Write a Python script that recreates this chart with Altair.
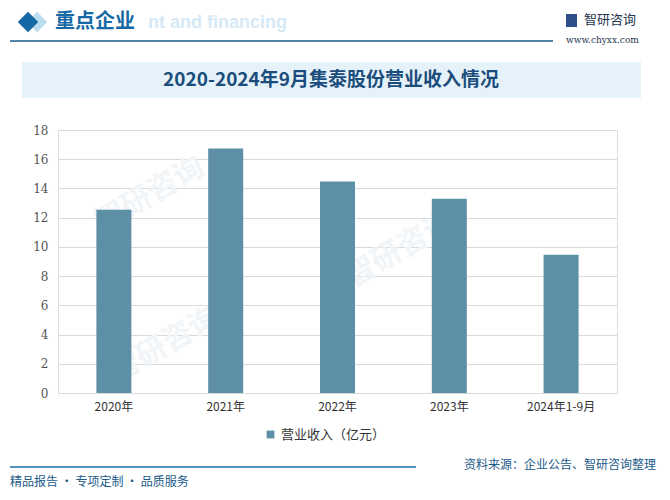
import altair as alt
import pandas as pd

categories = ["2020年", "2021年", "2022年", "2023年", "2024年1-9月"]
revenue = [12.55, 16.73, 14.47, 13.29, 9.47]
series_name = "营业收入（亿元）"
y_ticks = [0, 2, 4, 6, 8, 10, 12, 14, 16, 18]

title_text = "2020-2024年9月集泰股份营业收入情况"
header_text = "重点企业"
header_bg_text = "nt and financing"
logo_text = "智研咨询"
logo_url = "www.chyxx.com"
footer_left = "精品报告 · 专项定制 · 品质服务"
footer_right = "资料来源：企业公告、智研咨询整理"

df = pd.DataFrame({"cat": categories, "val": revenue, "series": [series_name] * len(categories)})
one = pd.DataFrame({"a": [0]})

# plot origin is at page (58,130)
OX, OY = 58, 130
FONT = "Noto Sans CJK SC"


def px(x):
    return x - OX


def py(y):
    return y - OY


def text(t, x, y, size, color, align="left", weight="normal", font=FONT, baseline="middle", angle=0, opacity=1):
    kw = dict(align=align, baseline=baseline, fontSize=size, color=color, fontWeight=weight, font=font, opacity=opacity)
    if angle:
        kw["angle"] = angle
    return alt.Chart(one).mark_text(**kw).encode(x=alt.value(px(x)), y=alt.value(py(y)), text=alt.value(t))


def rule(x1, x2, y, color, width):
    return alt.Chart(one).mark_rule(color=color, strokeWidth=width).encode(
        x=alt.value(px(x1)), x2=alt.value(px(x2)), y=alt.value(py(y)))


def rect(x1, x2, y1, y2, color, opacity=1):
    return alt.Chart(one).mark_rect(color=color, opacity=opacity).encode(
        x=alt.value(px(x1)), x2=alt.value(px(x2)), y=alt.value(py(y1)), y2=alt.value(py(y2)))


def diamond(x, y, size, color):
    return alt.Chart(one).mark_point(shape="diamond", filled=True, opacity=1, color=color, size=size).encode(
        x=alt.value(px(x)), y=alt.value(py(y)))


title_bg = rect(22, 641, 62, 98, "#e6f2fa")

watermarks = alt.layer(*[
    text("智研咨询", x, y, 30, "#f2f5f8", align="center", weight="bold", angle=330)
    for (x, y) in [(150, 195), (400, 250), (165, 345)]
])

bars = alt.Chart(df).mark_bar(size=35).encode(
    x=alt.X("cat:N", sort=categories, title=None,
            scale=alt.Scale(paddingInner=0.69, paddingOuter=0.345),
            axis=alt.Axis(labelAngle=0, labelFontSize=12, labelColor="#333333", labelFont=FONT,
                          labelPadding=8, domainColor="#d9d9d9", ticks=False, grid=False)),
    y=alt.Y("val:Q", title=None, scale=alt.Scale(domain=[0, 18], nice=False),
            axis=alt.Axis(values=y_ticks, labelFontSize=12, labelColor="#555555", labelFont="DejaVu Serif",
                          labelPadding=10, domain=False, ticks=False, gridColor="#d9d9d9")),
    color=alt.Color("series:N", scale=alt.Scale(range=["#5d90a7"]),
                    legend=alt.Legend(title=None, orient="none", legendX=206, legendY=298,
                                      symbolType="square", symbolSize=60, labelFontSize=13,
                                      labelColor="#333333", labelFont=FONT)),
)

layers = [
    title_bg,
    watermarks,
    bars,
    text(title_text, 331, 80, 19, "#1b4d7c", align="center", weight="bold"),
    # header
    text(header_bg_text, 287, 23, 18, "#d5e9f6", align="right", weight="bold", font="Liberation Sans"),
    diamond(37, 22, 420, "#bcdcef"),
    diamond(28, 22, 420, "#1769a6"),
    text(header_text, 55, 22, 20, "#1769a6", weight="bold"),
    rule(10, 553, 41, "#1a5a8a", 1.5),
    rect(566, 577, 14, 27, "#2f4f8a"),
    text(logo_text, 584, 20, 13, "#1f3550"),
    text(logo_url, 566, 40, 9, "#1f3550", font="DejaVu Serif"),
    # footer
    rule(10, 416, 467, "#1a6ea8", 1.5),
    text(footer_left, 10, 482, 12, "#1a5a8a"),
    text(footer_right, 656, 465, 12, "#1a5a8a", align="right"),
]

chart = alt.layer(*layers).properties(
    width=559, height=263,
    autosize=alt.AutoSizeParams(type="none"),
    padding={"left": 50, "top": 122, "right": 45, "bottom": 99},
).configure_view(stroke=None).configure(background="white")

chart.save("out.html", embed_options={"renderer": "svg", "actions": False})
